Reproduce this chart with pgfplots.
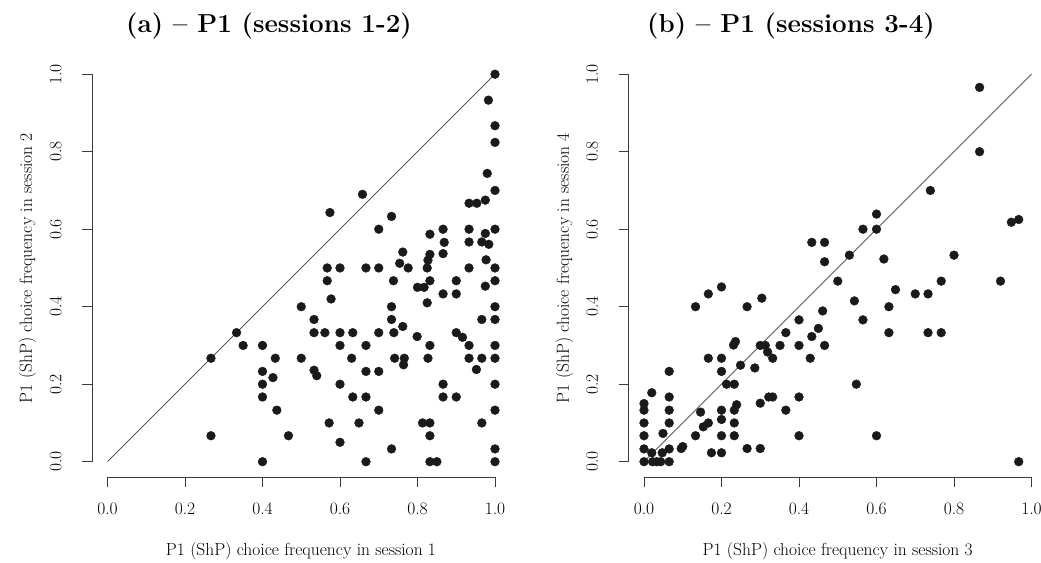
\documentclass[border=0pt]{standalone}
\usepackage{pgfplots}
\pgfplotsset{compat=1.18}
\usepackage{pgfplotstable}

\pgfplotstableread{
x y
0.267 0.267
0.267 0.067
0.333 0.333
0.35 0.3
0.4 0.3
0.4 0.233
0.4 0.2
0.4 0.167
0.4 0
0.433 0.267
0.427 0.217
0.437 0.133
0.467 0.067
0.5 0.4
0.5 0.267
0.533 0.367
0.533 0.333
0.533 0.236
0.54 0.222
0.561 0.333
0.567 0.5
0.567 0.467
0.577 0.42
0.574 0.643
0.572 0.1
0.6 0.5
0.6 0.333
0.6 0.3
0.6 0.2
0.6 0.05
0.633 0.333
0.63 0.267
0.633 0.167
0.649 0.1
0.658 0.69
0.667 0.5
0.667 0.3
0.667 0.233
0.667 0.167
0.667 0
0.7 0.6
0.7 0.5
0.7 0.333
0.7 0.233
0.7 0.133
0.733 0.633
0.738 0.467
0.733 0.4
0.733 0.367
0.739 0.333
0.741 0.267
0.733 0.033
0.762 0.541
0.754 0.512
0.762 0.349
0.766 0.267
0.764 0.25
0.776 0.5
0.8 0.45
0.817 0.45
0.799 0.323
0.813 0.1
0.832 0.587
0.832 0.535
0.827 0.52
0.825 0.5
0.832 0.467
0.825 0.41
0.832 0.3
0.827 0.267
0.832 0.1
0.832 0.067
0.832 0
0.85 0
0.866 0.6
0.869 0.566
0.866 0.537
0.866 0.433
0.866 0.2
0.866 0.167
0.9 0.467
0.9 0.433
0.9 0.333
0.916 0.321
0.9 0.167
0.933 0.667
0.933 0.6
0.933 0.567
0.933 0.5
0.933 0.3
0.933 0.267
0.953 0.667
0.952 0.238
0.975 0.675
0.966 0.567
0.984 0.561
0.975 0.589
0.977 0.521
0.975 0.453
0.966 0.367
0.966 0.267
0.966 0.1
0.983 0.933
0.98 0.744
1 1
1 0.867
1 0.824
1 0.7
1 0.6
1 0.5
1 0.467
1 0.4
1 0.367
1 0.3
1 0.267
1 0.2
1 0.133
1 0.033
1 0
}\dataA

\pgfplotstableread{
x y
0 0
0 0.033
0 0.067
0 0.1
0 0.133
0 0.15
0.02 0.178
0.02 0.023
0.022 0
0.033 0
0.043 0
0.047 0.023
0.049 0.073
0.065 0
0.065 0.033
0.065 0.1
0.065 0.133
0.065 0.167
0.065 0.233
0.096 0.034
0.1 0.039
0.133 0.067
0.133 0.4
0.146 0.128
0.153 0.09
0.166 0.1
0.166 0.267
0.166 0.433
0.174 0.023
0.2 0.451
0.2 0.267
0.2 0.233
0.2 0.133
0.2 0.109
0.2 0.067
0.2 0.023
0.213 0.2
0.233 0.2
0.231 0.301
0.236 0.31
0.233 0.133
0.239 0.147
0.233 0.1
0.233 0.067
0.249 0.249
0.266 0.4
0.266 0.034
0.286 0.242
0.3 0.034
0.3 0.151
0.3 0.3
0.313 0.3
0.304 0.422
0.319 0.283
0.322 0.167
0.332 0.167
0.332 0.267
0.351 0.3
0.366 0.333
0.366 0.133
0.4 0.366
0.4 0.3
0.4 0.167
0.4 0.067
0.429 0.267
0.433 0.323
0.45 0.344
0.461 0.389
0.466 0.3
0.466 0.516
0.433 0.566
0.466 0.566
0.5 0.466
0.53 0.533
0.543 0.415
0.548 0.2
0.565 0.6
0.565 0.366
0.6 0.6
0.6 0.639
0.6 0.067
0.619 0.523
0.632 0.4
0.632 0.333
0.649 0.444
0.7 0.433
0.733 0.433
0.733 0.333
0.739 0.7
0.767 0.466
0.767 0.333
0.8 0.533
0.866 0.966
0.866 0.8
0.92 0.466
0.948 0.618
0.967 0.625
0.967 0
}\dataB

\definecolor{ink}{HTML}{1A1A1A}
\newcommand{\lab}{\fontsize{17.5}{21}\selectfont}

\pgfplotsset{
  rstyle/.style={
    scale only axis, width=418.5pt, height=418.5pt,
    xmin=-0.04, xmax=1.04, ymin=-0.04, ymax=1.04,
    axis line style={draw=none},
    clip=false,
    xtick={0,0.2,0.4,0.6,0.8,1},
    ytick={0,0.2,0.4,0.6,0.8,1},
    xticklabels={0.0,0.2,0.4,0.6,0.8,1.0},
    yticklabels={0.0,0.2,0.4,0.6,0.8,1.0},
    xtick pos=left, ytick pos=left,
    tick align=outside,
    major tick length=10pt,
    tick style={ink!85, line width=0.8pt},
    xticklabel style={font=\lab, anchor=base, yshift=-27.8pt},
    yticklabel style={font=\lab, xshift=-20.7pt, rotate=90, anchor=base},
  }
}

\begin{document}
\begin{tikzpicture}[x=1pt,y=1pt]
\useasboundingbox (0,0) rectangle (1041,562);

% ---------- panel (a)
\begin{axis}[rstyle, at={(92pt,84.8pt)}, anchor=south west]
  \draw[ink!85, line width=0.8pt] (axis cs:0,-0.04) -- (axis cs:1,-0.04);
  \draw[ink!85, line width=0.8pt] (axis cs:-0.04,0) -- (axis cs:-0.04,1);
  \addplot[ink!85, line width=0.7pt, no marks] coordinates {(0,0) (1,1)};
  \addplot[only marks, mark=*, mark size=4.4pt, ink, mark options={draw=ink, fill=ink}] table {\dataA};
\end{axis}

% ---------- panel (b)
\begin{axis}[rstyle, at={(628.5pt,84.8pt)}, anchor=south west]
  \draw[ink!85, line width=0.8pt] (axis cs:0,-0.04) -- (axis cs:1,-0.04);
  \draw[ink!85, line width=0.8pt] (axis cs:-0.04,0) -- (axis cs:-0.04,1);
  \addplot[ink!85, line width=0.7pt, no marks] coordinates {(0,0) (1,1)};
  \addplot[only marks, mark=*, mark size=4.4pt, ink, mark options={draw=ink, fill=ink}] table {\dataB};
\end{axis}

% titles
\node[anchor=base, font=\fontsize{26}{31}\selectfont\bfseries] at (269,529) {(a) -- P1 (sessions 1-2)};
\node[anchor=base, font=\fontsize{26}{31}\selectfont\bfseries] at (791,529) {(b) -- P1 (sessions 3-4)};
% x labels
\node[anchor=base, font=\lab] at (301,6) {P1 (ShP) choice frequency in session 1};
\node[anchor=base, font=\lab] at (837.7,6) {P1 (ShP) choice frequency in session 3};
% y labels
\node[anchor=base, rotate=90, font=\lab] at (32,294) {P1 (ShP) choice frequency in session 2};
\node[anchor=base, rotate=90, font=\lab] at (568.8,294) {P1 (ShP) choice frequency in session 4};
\end{tikzpicture}
\end{document}
